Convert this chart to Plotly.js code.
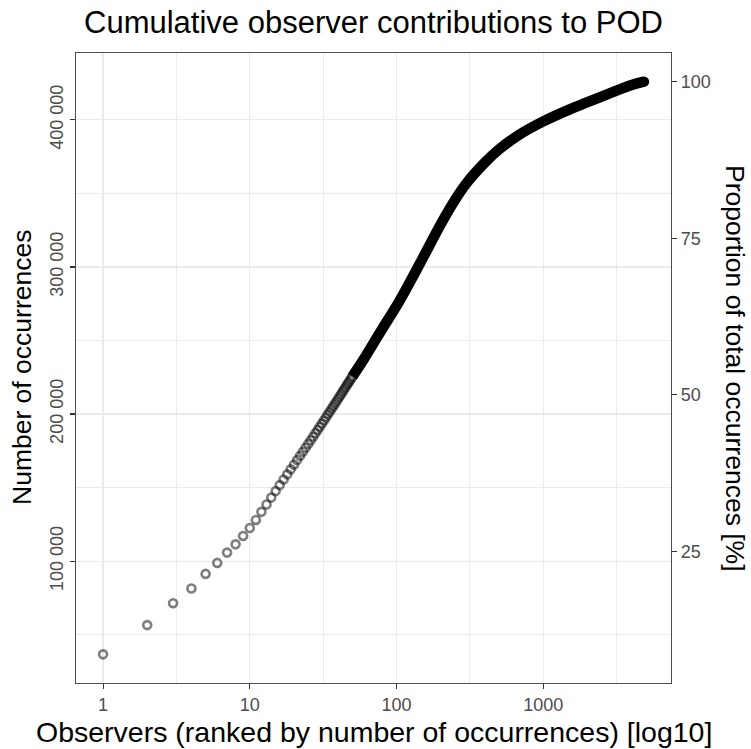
<!DOCTYPE html>
<html><head><meta charset="utf-8">
<script src="https://cdn.plot.ly/plotly-3.0.1.min.js"></script>
<style>html,body{margin:0;padding:0;background:#fff}#chart{width:751px;height:749px}</style>
</head><body><div id="chart"></div>
<script>
// Individually visible observers (rank -> cumulative occurrences)
const observerRanks = [1,2,3,4,5,6,7,8,9,10,11,12,13,14,15,16,17,18,19,20,
  21,22,23,24,25,26,27,28,29,30,31,32,33,34,35,36,37,38,39,40,
  41,42,43,44,45,46,47,48,49,50];
const cumulativeOccurrences = [36600,56500,71400,81400,91300,98800,105800,111400,117100,122500,
  128000,133500,138500,143200,147600,151700,155500,159000,162400,165600,
  168700,171600,174400,177100,179700,182200,184600,186900,189200,191400,
  193500,195600,197600,199600,201500,203400,205200,207000,208700,210400,
  212100,213700,215300,216900,218400,219900,221300,222700,224100,225500];
// Dense part of the curve (ranks read along the merged band)
const curveRanks = [50,60,70,80,100,120,150,200,250,300,400,500,700,1000,1500,2000,3000,4000,4850];
const curveOccurrences = [225500,237500,248500,258000,273500,287500,305500,329000,345500,357000,
  371000,380000,390500,399000,407000,412000,419000,423700,426000];
const totalOccurrences = 426000;
const xTickVals = [1,10,100,1000];
const xTickText = ['1','10','100','1000'];
const xMinorVals = [3.1623,31.623,316.23,3162.3];
const yTickVals = [100000,200000,300000,400000];
const yTickText = ['100 000','200 000','300 000','400 000'];
const yMinorVals = [50000,150000,250000,350000];
const pctTickVals = [25,50,75,100];
const pctTickText = ['25','50','75','100'];

const allRanks = observerRanks.concat(curveRanks);
const allVals = cumulativeOccurrences.concat(curveOccurrences);
const lx0 = Math.log10(Math.min(...allRanks)), lx1 = Math.log10(Math.max(...allRanks));
const xpad = 0.05*(lx1-lx0);
const y0 = Math.min(...allVals), y1 = Math.max(...allVals);
const ypad = 0.05*(y1-y0);
const yRange = [y0-ypad, y1+ypad];
const y2Range = yRange.map(v => v/totalOccurrences*100);

const traces = [
  {x: curveRanks, y: curveOccurrences, type:'scatter', mode:'lines',
   line:{color:'#000', width:10.5, shape:'spline', smoothing:1}, hoverinfo:'skip'},
  {x: [curveRanks[curveRanks.length-1]], y:[curveOccurrences[curveOccurrences.length-1]],
   type:'scatter', mode:'markers', marker:{symbol:'circle', size:10.5, color:'#000', line:{width:0}}, hoverinfo:'skip'},
  {x: observerRanks, y: cumulativeOccurrences, type:'scatter', mode:'markers',
   marker:{symbol:'circle-open', size:8, line:{color:'rgba(0,0,0,0.5)', width:2.6}, color:'rgba(0,0,0,0.5)'}},
  {x: curveRanks, y: curveOccurrences.map(v => v/totalOccurrences*100), yaxis:'y2', type:'scatter',
   mode:'markers', marker:{opacity:0}, hoverinfo:'skip'}
];

const axisCommon = {ticks:'outside', ticklen:5, tickwidth:1.1, tickcolor:'#333', showline:true,
  linecolor:'#4d4d4d', linewidth:1.1, zeroline:false};

const layout = {
  width:751, height:749, showlegend:false,
  margin:{l:76, r:80, t:53, b:66},
  paper_bgcolor:'#fff', plot_bgcolor:'#fff',
  font:{family:'Liberation Sans, Arial, sans-serif', color:'#4d4d4d', size:18},
  title:{text:'Cumulative observer contributions to POD', font:{size:31, color:'#000'},
    xref:'paper', x:0.5, xanchor:'center', yref:'container', y:1-22/749, yanchor:'middle'},
  xaxis: Object.assign({}, axisCommon, {type:'log', range:[lx0-xpad, lx1+xpad], mirror:true,
    tickmode:'array', tickvals:xTickVals, ticktext:xTickText, tickfont:{size:18, color:'#4d4d4d'},
    showgrid:true, gridcolor:'#ebebeb', gridwidth:1.2,
    minor:{tickmode:'array', tickvals:xMinorVals, showgrid:true, gridcolor:'#ebebeb', gridwidth:1, ticks:''}}),
  yaxis: Object.assign({}, axisCommon, {range:yRange, mirror:true,
    tickmode:'array', tickvals:yTickVals, ticktext:yTickText, tickangle:-90, tickfont:{size:18, color:'#4d4d4d'},
    showgrid:true, gridcolor:'#ebebeb', gridwidth:1.2,
    minor:{tickmode:'array', tickvals:yMinorVals, showgrid:true, gridcolor:'#ebebeb', gridwidth:1, ticks:''}}),
  yaxis2: Object.assign({}, axisCommon, {range:y2Range, overlaying:'y', side:'right',
    tickmode:'array', tickvals:pctTickVals, ticktext:pctTickText, tickfont:{size:18, color:'#4d4d4d'},
    showgrid:false}),
  annotations:[
    {text:'Observers (ranked by number of occurrences) [log10]', xref:'paper', yref:'paper',
     x:0.5, y:(683-732)/630, xanchor:'center', yanchor:'middle', showarrow:false, font:{size:28.5, color:'#000'}},
    {text:'Number of occurrences', xref:'paper', yref:'paper', x:(22-76)/595, y:0.5, textangle:-90,
     xanchor:'center', yanchor:'middle', showarrow:false, font:{size:26.5, color:'#000'}},
    {text:'Proportion of total occurrences [%]', xref:'paper', yref:'paper', x:(735-76)/595, y:0.5, textangle:90,
     xanchor:'center', yanchor:'middle', showarrow:false, font:{size:26.5, color:'#000'}}
  ]
};
Plotly.newPlot('chart', traces, layout, {displayModeBar:false, staticPlot:true});
</script></body></html>
